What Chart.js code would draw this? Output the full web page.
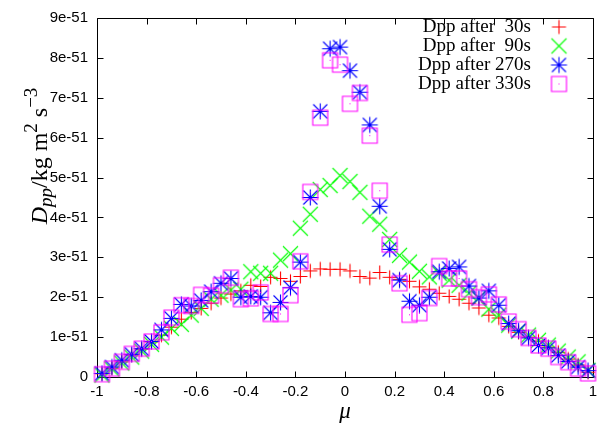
<!DOCTYPE html>
<html>
<head>
<meta charset="utf-8">
<script src="https://cdn.jsdelivr.net/npm/chart.js@4.4.1/dist/chart.umd.min.js"></script>
<style>
  html, body { margin:0; padding:0; background:#fff; }
  #wrap { width:604px; height:426px; position:relative; }
</style>
</head>
<body>
<div id="wrap"><canvas id="dpp"></canvas></div>
<script>
// bin centres in mu
const MU = [-0.98,-0.94,-0.90,-0.86,-0.82,-0.78,-0.74,-0.70,-0.66,-0.62,
            -0.58,-0.54,-0.50,-0.46,-0.42,-0.38,-0.34,-0.30,-0.26,-0.22,
            -0.18,-0.14,-0.10,-0.06,-0.02, 0.02, 0.06, 0.10, 0.14, 0.18,
             0.22, 0.26, 0.30, 0.34, 0.38, 0.42, 0.46, 0.50, 0.54, 0.58,
             0.62, 0.66, 0.70, 0.74, 0.78, 0.82, 0.86, 0.90, 0.94, 0.98];

// Dpp values, in units of 1e-51 kg m^2 s^-3
const DPP_30 = [0.08,0.22,0.38,0.55,0.70,0.88,1.05,1.25,1.45,1.62,
                1.72,1.85,1.98,2.08,2.16,2.30,2.27,2.50,2.47,2.40,
                2.52,2.66,2.71,2.70,2.70,2.66,2.52,2.48,2.62,2.50,
                2.45,2.40,2.26,2.20,2.10,2.02,1.95,1.85,1.73,1.55,
                1.48,1.27,1.12,1.00,0.90,0.75,0.62,0.45,0.30,0.12];
const DPP_90 = [0.05,0.20,0.35,0.50,0.65,0.82,1.00,1.22,1.32,1.55,
                1.72,1.95,2.05,2.18,2.20,2.64,2.60,2.60,2.93,3.09,
                3.73,4.08,4.70,4.80,5.05,4.90,4.63,4.03,3.83,3.45,
                3.05,2.88,2.65,2.51,2.60,2.43,2.30,2.10,1.98,1.70,
                1.55,1.30,1.15,1.05,0.92,0.80,0.65,0.50,0.38,0.17];
const DPP_270 = [0.09,0.25,0.42,0.57,0.71,0.89,1.18,1.47,1.82,1.78,
                 1.92,2.14,2.35,2.47,2.00,2.02,2.00,1.61,1.87,2.24,
                 2.88,4.50,6.66,8.23,8.27,7.68,7.14,6.32,4.28,3.20,
                 2.43,1.90,1.80,2.00,2.64,2.72,2.76,2.28,1.98,2.16,
                 1.80,1.34,1.16,0.98,0.79,0.73,0.54,0.39,0.25,0.16];
const DPP_330 = [0.07,0.21,0.38,0.58,0.71,0.89,1.12,1.49,1.80,1.78,
                 2.06,2.04,2.30,2.49,1.95,1.97,2.12,1.58,1.58,2.05,
                 2.90,4.64,6.50,7.94,7.83,6.85,7.12,6.05,4.67,3.32,
                 2.35,1.56,1.60,1.98,2.78,2.47,2.47,2.20,2.00,2.07,
                 1.82,1.39,1.20,0.98,0.79,0.71,0.50,0.37,0.21,0.09];

const SERIES_LABELS = ["Dpp after  30s", "Dpp after  90s", "Dpp after 270s", "Dpp after 330s"];

const X_TICK_VALUES = [-1,-0.8,-0.6,-0.4,-0.2,0,0.2,0.4,0.6,0.8,1];
const X_TICK_LABELS = ["-1","-0.8","-0.6","-0.4","-0.2","0","0.2","0.4","0.6","0.8","1"];
const Y_TICK_VALUES = [0,1,2,3,4,5,6,7,8,9];
const Y_TICK_LABELS = ["0","1e-51","2e-51","3e-51","4e-51","5e-51","6e-51","7e-51","8e-51","9e-51"];

const RED = "#ff0000", GREEN = "#00ff00", BLUE = "#0000ff", MAGENTA = "#ff00ff";

// gnuplot-like point symbols
function marker(kind, color) {
  const c = document.createElement("canvas");
  c.width = 21; c.height = 21;
  const g = c.getContext("2d");
  g.strokeStyle = color;
  g.fillStyle = color;
  g.lineWidth = 1.1;
  const m = 10.5;
  g.beginPath();
  if (kind === "plus" || kind === "star") {
    const r = kind === "plus" ? 7 : 8;
    g.moveTo(m - r, m); g.lineTo(m + r, m);
    g.moveTo(m, m - r); g.lineTo(m, m + r);
  }
  if (kind === "cross" || kind === "star") {
    const r = kind === "cross" ? 7.5 : 7;
    g.moveTo(m - r, m - r); g.lineTo(m + r, m + r);
    g.moveTo(m - r, m + r); g.lineTo(m + r, m - r);
  }
  if (kind === "box") {
    g.rect(m - 7.5, m - 7.5, 15, 15);
  }
  g.stroke();
  if (kind === "star") {
    g.beginPath(); g.arc(m, m, 1.8, 0, Math.PI * 2); g.fill();
  }
  if (kind === "box") {
    g.fillRect(m - 0.5, m - 0.5, 1, 1);
  }
  return c;
}

const MARKERS = [marker("plus", RED), marker("cross", GREEN), marker("star", BLUE), marker("box", MAGENTA)];
const VALUES = [DPP_30, DPP_90, DPP_270, DPP_330];

const SERIF = "'Liberation Serif', 'DejaVu Serif', serif";
const SANS = "'Liberation Sans', Arial, sans-serif";

const gnuFrame = {
  id: "gnuFrame",
  beforeDatasetsDraw(chart) {
    const { ctx, chartArea: a, scales: { x, y } } = chart;
    const L = Math.round(a.left) + 0.5, R = Math.round(a.right) + 0.5;
    const T = Math.round(a.top) + 0.5, B = Math.round(a.bottom) + 0.5;
    ctx.save();
    ctx.strokeStyle = "#000";
    ctx.lineWidth = 1;
    ctx.beginPath();
    ctx.rect(L, T, R - L, B - T);
    X_TICK_VALUES.forEach(v => {
      const px = Math.round(x.getPixelForValue(v)) + 0.5;
      ctx.moveTo(px, B); ctx.lineTo(px, B - 6);
      ctx.moveTo(px, T); ctx.lineTo(px, T + 6);
    });
    Y_TICK_VALUES.forEach(v => {
      const py = Math.round(y.getPixelForValue(v)) + 0.5;
      ctx.moveTo(L, py); ctx.lineTo(L + 6, py);
      ctx.moveTo(R, py); ctx.lineTo(R - 6, py);
    });
    ctx.stroke();
    ctx.restore();
  },
  afterDraw(chart) {
    const ctx = chart.ctx;
    ctx.save();
    ctx.fillStyle = "#000";

    // x title
    ctx.font = "italic 23px " + SERIF;
    ctx.textAlign = "center";
    ctx.textBaseline = "alphabetic";
    ctx.fillText("\u03bc", 345, 418);

    // y title, rotated, with sub/superscripts
    const segs = [
      { t: "D", f: "italic 24px " + SERIF, dy: 0 },
      { t: "pp", f: "italic 19px " + SERIF, dy: 5 },
      { t: "/kg m", f: "24px " + SERIF, dy: 0 },
      { t: "2", f: "19px " + SERIF, dy: -10 },
      { t: " s", f: "24px " + SERIF, dy: 0 },
      { t: "\u22123", f: "19px " + SERIF, dy: -10 }
    ];
    let total = 0;
    segs.forEach(s => { ctx.font = s.f; s.w = ctx.measureText(s.t).width; total += s.w; });
    ctx.translate(47, 156);
    ctx.rotate(-Math.PI / 2);
    ctx.textAlign = "left";
    let cx = -total / 2;
    segs.forEach(s => { ctx.font = s.f; ctx.fillText(s.t, cx, s.dy); cx += s.w; });
    ctx.setTransform(1, 0, 0, 1, 0, 0);

    // key, top right
    ctx.font = "19px " + SERIF;
    ctx.textAlign = "right";
    ctx.textBaseline = "middle";
    SERIES_LABELS.forEach((lab, i) => {
      const yy = 27 + i * 19;
      ctx.fillText(lab, 531, yy);
      ctx.drawImage(MARKERS[i], 559 - 10.5, yy - 10.5);
    });
    ctx.restore();
  }
};

new Chart(document.getElementById("dpp"), {
  type: "scatter",
  data: {
    datasets: VALUES.map((vals, i) => ({
      label: SERIES_LABELS[i],
      data: MU.map((m, j) => ({ x: m, y: vals[j] })),
      pointStyle: MARKERS[i],
      pointRadius: 8,
      pointHoverRadius: 8,
      showLine: false,
      clip: false,
      order: 4 - i
    }))
  },
  options: {
    responsive: true,
    maintainAspectRatio: false,
    animation: false,
    events: [],
    layout: { padding: { top: 12, right: 11, left: 0, bottom: 0 } },
    plugins: { legend: { display: false }, tooltip: { enabled: false } },
    scales: {
      x: {
        type: "linear",
        min: -1, max: 1,
        afterBuildTicks: s => { s.ticks = X_TICK_VALUES.map(v => ({ value: v })); },
        afterFit: s => { s.height = 49; },
        grid: { display: false, drawTicks: false },
        border: { display: false },
        ticks: {
          padding: 6,
          color: "#000",
          font: { family: SANS, size: 15 },
          maxRotation: 0,
          autoSkip: false,
          callback: (v, i) => X_TICK_LABELS[i]
        }
      },
      y: {
        type: "linear",
        min: 0, max: 9,
        afterBuildTicks: s => { s.ticks = Y_TICK_VALUES.map(v => ({ value: v })); },
        afterFit: s => { s.width = 97; },
        grid: { display: false, drawTicks: false },
        border: { display: false },
        ticks: {
          padding: 9,
          color: "#000",
          font: { family: SANS, size: 15 },
          autoSkip: false,
          callback: (v, i) => Y_TICK_LABELS[i]
        }
      }
    }
  },
  plugins: [gnuFrame]
});
</script>
</body>
</html>
